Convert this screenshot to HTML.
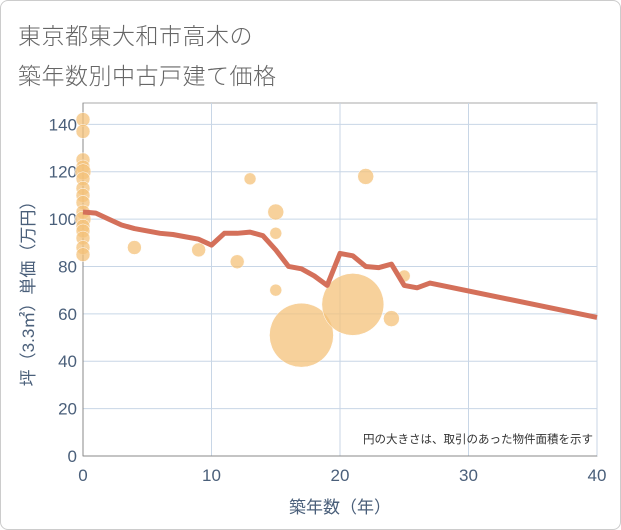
<!DOCTYPE html>
<html><head><meta charset="utf-8"><style>
body{margin:0;background:#fff;font-family:"Liberation Sans","Noto Sans CJK JP",sans-serif}
#wrap{position:relative;width:619px;height:528px;border:1px solid #ccc;border-radius:8px;overflow:hidden;background:#fff}
.title{position:absolute;left:17px;font-size:23px;color:#666;font-weight:300;letter-spacing:0.5px}
</style></head><body>
<div id="wrap">
<div class="title" style="top:16px">東京都東大和市高木の</div>
<div class="title" style="top:56px">築年数別中古戸建て価格</div>
<svg id="chart" width="621" height="530" style="position:absolute;left:-1px;top:-1px"></svg>
</div>
<script>
const xTicks=[0,10,20,30,40];
const yTicks=[0,20,40,60,80,100,120,140];
const lineX=[0,1,2,3,4,5,6,7,8,9,10,11,12,13,14,15,16,17,18,19,20,21,22,23,24,25,26,27,40];
const lineY=[103,102.5,100,97.5,96,95,94,93.5,92.5,91.5,89,94,94,94.5,93,87,80,79,76,72,85.5,84.5,80,79.5,81,72,71,73,58.5];
const bubX=[0,0,0,0,0,0,0,0,0,0,0,0,0,0,0,0,4,9,12,13,15,15,15,17,21,22,24,25];
const bubY=[142,137,125,122,120,117,113,110,107,103,100,97,95,92,88,85,88,87,82,117,103,94,70,51,64,118,58,76];
const bubR=[7,7,7,7,8,7,7,7,7,7,8,7,7,7,7,7,7,7,7,6,8,6,6,32,31,8,8,6];
const X0=83,X1=597,Y0=456,Y1=103;
const sx=v=>X0+(v-0)/40*(X1-X0);
const sy=v=>Y0-v/149*(Y0-Y1);
const svg=document.getElementById('chart');const NS='http://www.w3.org/2000/svg';
function mk(t,a,p){const e=document.createElementNS(NS,t);for(const k in a)e.setAttribute(k,a[k]);(p||svg).appendChild(e);return e;}
mk('rect',{x:X0,y:Y1,width:X1-X0,height:Y0-Y1,fill:'#fff',stroke:'#aaa','stroke-width':1});
yTicks.forEach(v=>{const y=sy(v);
 const g=mk('line',{x1:X0,x2:X1,y1:y,y2:y,stroke:'#c8d6e6','stroke-width':1});
 
 
 const t=mk('text',{x:X0-6,y:y+6,'text-anchor':'end','font-size':17,fill:'#4a5f7a'});t.textContent=v;
 
 });
xTicks.forEach(v=>{const x=sx(v);
 const g=mk('line',{x1:x,x2:x,y1:Y1,y2:Y0,stroke:'#c8d6e6','stroke-width':1});
 
 
 const t=mk('text',{x:x,y:Y0+25,'text-anchor':'middle','font-size':17,fill:'#4a5f7a'});t.textContent=v;
 
 });
mk('line',{x1:X0,x2:X0,y1:Y1,y2:Y0,stroke:'#888','stroke-width':1});
mk('line',{x1:X0,x2:X1,y1:Y0,y2:Y0,stroke:'#888','stroke-width':1});
bubX.forEach((v,i)=>{const c=mk('circle',{cx:sx(v),cy:sy(bubY[i]),r:bubR[i],fill:'#f4c27a','fill-opacity':0.75,stroke:'#fff','stroke-width':0.5});
 
 });
const pl=mk('polyline',{points:lineX.map((v,i)=>sx(v)+','+sy(lineY[i])).join(' '),fill:'none',stroke:'#d4705a','stroke-width':5,'stroke-linejoin':'round'});


const note=mk('text',{x:593,y:443,'text-anchor':'end','font-size':11.5,fill:'#333'});note.textContent='円の大きさは、取引のあった物件面積を示す';


const xt=mk('text',{x:(X0+X1)/2,y:513,'text-anchor':'middle','font-size':17,fill:'#4a5f7a'});xt.textContent='築年数（年）';


const yt=mk('text',{x:0,y:0,'text-anchor':'middle','font-size':17,fill:'#4a5f7a',transform:'translate(34,'+((Y0+Y1)/2+10)+') rotate(-90)'});yt.textContent='坪（3.3㎡）単価（万円）';


</script>
</body></html>
